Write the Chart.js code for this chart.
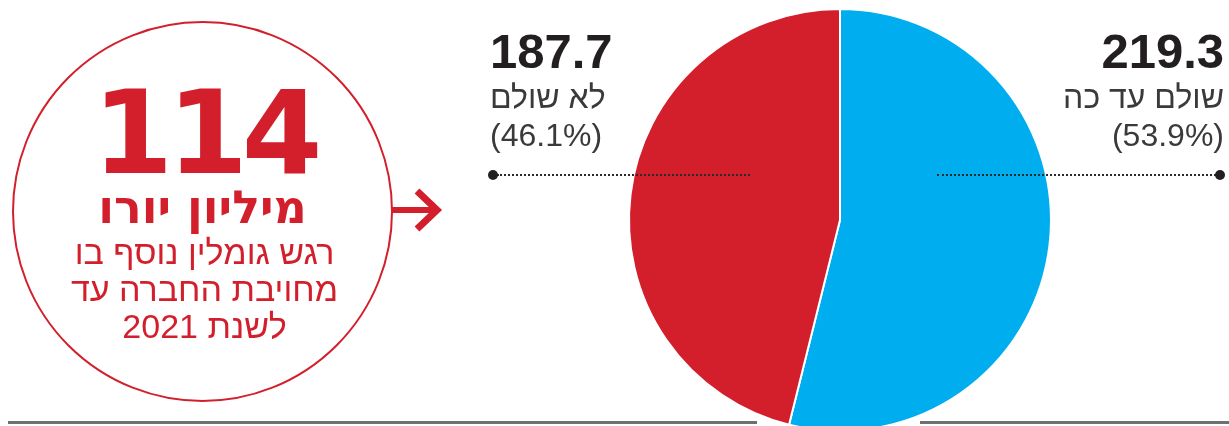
<!DOCTYPE html>
<html lang="he">
<head>
<meta charset="utf-8">
<script src="https://cdn.jsdelivr.net/npm/chart.js@4/dist/chart.umd.min.js"></script>
<style>
  html, body { margin: 0; padding: 0; background: #fff; }
  body { width: 1229px; height: 426px; overflow: hidden; position: relative; font-family: "Liberation Sans", "DejaVu Sans", sans-serif; }
  #wrap { position: absolute; left: 0; top: 0; width: 1229px; height: 460px; }
  .abs { position: absolute; white-space: nowrap; line-height: 1; }
  .red { color: #d21f2b; }
  .num { font-weight: bold; font-size: 49px; color: #231f20; }
  .lbl { font-size: 32px; color: #3a3a3a; }
  .dots { position: absolute; height: 0; border-top: 2px dotted #2a2a2a; }
  .dot { position: absolute; width: 10px; height: 10px; border-radius: 50%; background: #231f20; }
  .base { position: absolute; top: 421px; height: 3px; background: #6f6f6f; }
</style>
</head>
<body>
<div id="wrap"><canvas id="pieChart"></canvas></div>

<div class="base" style="left:8px;width:749px"></div>
<div class="base" style="left:920px;width:309px"></div>

<!-- left circle -->
<div style="position:absolute;left:12px;top:21px;width:377px;height:377px;border:2px solid #d21f2b;border-radius:50%"></div>
<div class="abs red" id="bigNum" style="left:14px;width:381px;text-align:center;top:75px;font-family:'DejaVu Sans';font-weight:bold;font-size:116px;letter-spacing:-6px"></div>
<div class="abs red" id="bigUnit" style="left:12px;width:381px;text-align:center;top:184px;font-family:'DejaVu Sans';font-weight:bold;font-size:46px" dir="rtl"></div>
<div id="bigNote"></div>

<svg class="abs" style="left:392px;top:185px" width="56" height="52">
  <line x1="0" y1="25" x2="46" y2="25" stroke="#d21f2b" stroke-width="6"/>
  <polyline points="25,6 45,25 25,44" fill="none" stroke="#d21f2b" stroke-width="7"/>
</svg>

<div id="labels"></div>

<script>
const categories = ['שולם עד כה', 'לא שולם'];
const values = [219.3, 187.7];
const colors = ['#00aeef', '#d21f2b'];

const headlineValue = '114';
const headlineUnit = 'מיליון יורו';
const headlineNote = ['רגש גומלין נוסף בו', 'מחויבת החברה עד', 'לשנת 2021'];

// circle text
document.getElementById('bigNum').textContent = headlineValue;
document.getElementById('bigUnit').textContent = headlineUnit;
const noteBox = document.getElementById('bigNote');
headlineNote.forEach((line, i) => {
    const d = document.createElement('div');
    d.className = 'abs red';
    d.dir = 'rtl';
    d.style.cssText = 'left:14px;width:381px;text-align:center;font-size:34px;top:' + (235 + i * 37) + 'px';
    d.textContent = line;
    noteBox.appendChild(d);
});

// value labels
const total = values.reduce((a, b) => a + b, 0);
const labelBox = document.getElementById('labels');
const sides = [
    { align: 'right', x: 1224, line: [937, 1216] },  // blue slice, right side
    { align: 'left', x: 490, line: [497, 750] }      // red slice, left side
];
categories.forEach((cat, i) => {
    const s = sides[i];
    const pos = s.align === 'right' ? 'right:' + (1229 - s.x) + 'px;text-align:right;' : 'left:' + s.x + 'px;text-align:left;';
    const rows = [
        ['num', values[i].toFixed(1), 27, 'ltr'],
        ['lbl', cat, 81, 'rtl'],
        ['lbl', '(' + (values[i] / total * 100).toFixed(1) + '%)', 119, 'ltr']
    ];
    rows.forEach(r => {
        const d = document.createElement('div');
        d.className = 'abs ' + r[0];
        d.dir = r[3];
        d.style.cssText = pos + 'top:' + r[2] + 'px';
        d.textContent = r[1];
        labelBox.appendChild(d);
    });
    const ln = document.createElement('div');
    ln.className = 'dots';
    ln.style.cssText = 'left:' + s.line[0] + 'px;width:' + (s.line[1] - s.line[0]) + 'px;top:174px;z-index:2';
    labelBox.appendChild(ln);
    const dot = document.createElement('div');
    dot.className = 'dot';
    dot.style.cssText = 'left:' + (s.align === 'right' ? 1215 : 488) + 'px;top:170px;z-index:2';
    labelBox.appendChild(dot);
});

const pieCtx = document.getElementById('pieChart');

new Chart(pieCtx, {
    type: 'pie',
    data: {
        labels: categories,
        datasets: [{
            data: values,
            backgroundColor: colors,
            borderColor: '#ffffff',
            borderWidth: 2
        }]
    },
    options: {
        responsive: true,
        maintainAspectRatio: false,
        animation: false,
        rotation: 0,
        layout: {
            padding: { left: 628, right: 177, top: 8, bottom: 28 }
        },
        plugins: {
            legend: { display: false },
            tooltip: { enabled: false }
        }
    }
});
</script>
</body>
</html>
